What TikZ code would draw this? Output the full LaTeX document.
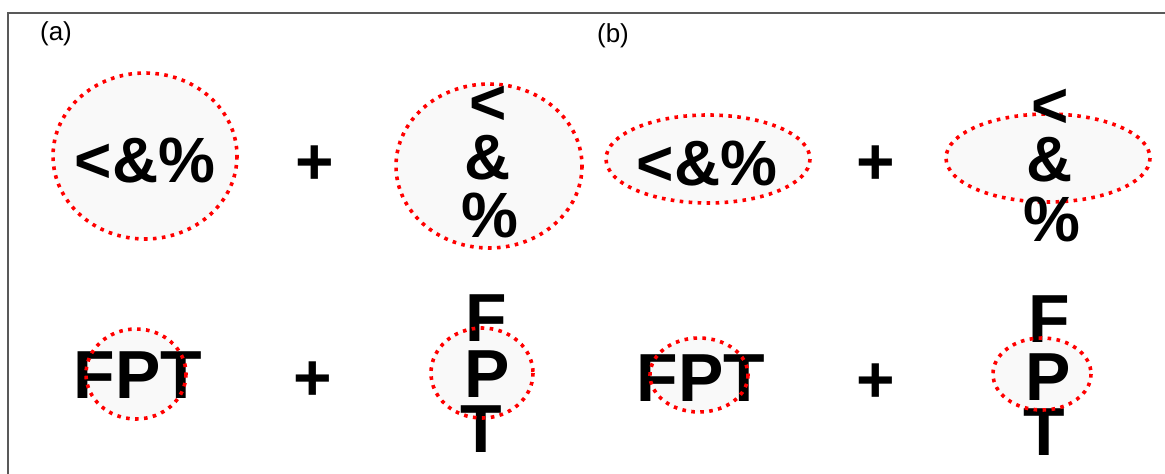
\documentclass[tikz,border=0pt]{standalone}
\usepackage{fontspec}
\setmainfont{Liberation Sans}
\begin{document}
\begin{tikzpicture}[x=1pt,y=-1pt,
  ring/.style={draw=red, line width=3.6pt, dash pattern=on 3.6pt off 5.4pt},
  ringfill/.style={fill=black!2.5},
  sym/.style={inner sep=0pt, anchor=base, text height=0.72em, text depth=0pt, font=\fontsize{64}{64}\selectfont\bfseries},
  let/.style={inner sep=0pt, anchor=base, text height=0.72em, text depth=0pt, font=\fontsize{68}{68}\selectfont\bfseries},
  pls/.style={inner sep=0pt, anchor=base, font=\fontsize{66}{66}\selectfont\bfseries},
  lab/.style={inner sep=0pt, anchor=center, font=\fontsize{26}{26}\selectfont}]
\useasboundingbox (0,0) rectangle (1165,474);
\coordinate (tl) at (8,13);
\coordinate (tr) at (1165,13);
\coordinate (bl) at (8,474);
\draw[line width=1.8pt, draw=black!65] (bl) -- (tl) -- (tr);

\node[lab] (la) at (56,34) {(a)};
\node[lab] (lb) at (613,36) {(b)};

% ---- row 1 ----
\fill[ringfill] (145,156) ellipse [x radius=92, y radius=83];
\draw[ring] (145,156) ellipse [x radius=92, y radius=83];
\node[sym] (a1) at (145,182) {<\&\%};
\node[pls] (p1) at (315,184) {+};

\fill[ringfill] (489,166) ellipse [x radius=93, y radius=82];
\draw[ring] (489,166) ellipse [x radius=93, y radius=82];
\node[sym] (a2l) at (488,124) {<};
\node[sym] (a2a) at (488,179) {\&};
\node[sym] (a2p) at (490,237) {\%};

\fill[ringfill] (708,159) ellipse [x radius=102, y radius=44];
\draw[ring] (708,159) ellipse [x radius=102, y radius=44];
\node[sym] (b1) at (707,185) {<\&\%};
\node[pls] (p2) at (876,184) {+};

\fill[ringfill] (1048,158) ellipse [x radius=102, y radius=44];
\draw[ring] (1048,158) ellipse [x radius=102, y radius=44];
\node[sym] (b2l) at (1050,127) {<};
\node[sym] (b2a) at (1050,181) {\&};
\node[sym] (b2p) at (1052,241) {\%};

% ---- row 2 ----
\fill[ringfill] (136,374) ellipse [x radius=50, y radius=45];
\node[let] (a3) at (138,398) {FPT};
\draw[ring] (136,374) ellipse [x radius=50, y radius=45];
\node[pls] (p3) at (313,400) {+};

\fill[ringfill] (482,373) ellipse [x radius=51, y radius=45];
\node[let] (a4f) at (486,341) {F};
\node[let] (a4p) at (487,397) {P};
\node[let] (a4t) at (481,452) {T};
\draw[ring] (482,373) ellipse [x radius=51, y radius=45];

\fill[ringfill] (699,375) ellipse [x radius=49, y radius=37];
\node[let] (b3) at (701,401) {FPT};
\draw[ring] (699,375) ellipse [x radius=49, y radius=37];
\node[pls] (p4) at (876,402) {+};

\fill[ringfill] (1042,374) ellipse [x radius=49, y radius=36];
\node[let] (b4f) at (1049,342) {F};
\node[let] (b4p) at (1048,400) {P};
\node[let] (b4t) at (1044,455) {T};
\draw[ring] (1042,374) ellipse [x radius=49, y radius=36];
\end{tikzpicture}
\end{document}
